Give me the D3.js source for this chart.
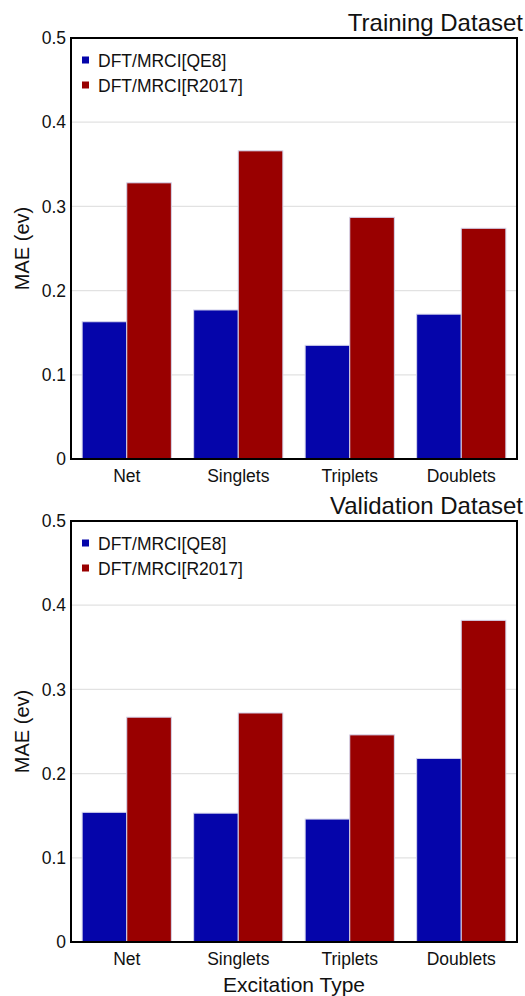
<!DOCTYPE html>
<html><head><meta charset="utf-8">
<script src="https://cdn.jsdelivr.net/npm/d3@7"></script>
<style>body{margin:0;background:#fff}svg{display:block;font-family:"Liberation Sans",Arial,sans-serif}</style>
</head><body><svg id="c" width="525" height="996"></svg>
<script>
const categories = ["Net","Singlets","Triplets","Doublets"];
const seriesNames = ["DFT/MRCI[QE8]","DFT/MRCI[R2017]"];
const seriesColors = ["#0505aa","#990000"];
const trainingQE8 = [0.163,0.177,0.135,0.172];
const trainingR2017 = [0.328,0.366,0.287,0.274];
const validationQE8 = [0.154,0.153,0.146,0.218];
const validationR2017 = [0.267,0.272,0.246,0.382];
const yTicks = [0,0.1,0.2,0.3,0.4,0.5];

const FF = "Liberation Sans, Arial, sans-serif";
const svg = d3.select("#c");
const panels = [
  {title:"Training Dataset", data:[trainingQE8,trainingR2017], top:38, bottom:459},
  {title:"Validation Dataset", data:[validationQE8,validationR2017], top:521, bottom:942}
];
const left = 71, right = 517;

panels.forEach(p => {
  const g = svg.append("g");
  const y = d3.scaleLinear().domain([0,0.5]).range([p.bottom,p.top]);
  const x = d3.scaleBand().domain(categories).range([left,right]).paddingInner(0.2).paddingOuter(0.1);
  const xs = d3.scaleBand().domain([0,1]).range([0,x.bandwidth()]);

  g.append("g").selectAll("line").data(yTicks.filter(t=>t>0 && t<0.5)).join("line")
    .attr("x1",left).attr("x2",right).attr("y1",d=>y(d)).attr("y2",d=>y(d))
    .attr("stroke","#e2e2e2").attr("stroke-width",1.2);

  categories.forEach((c,i) => {
    p.data.forEach((s,j) => {
      g.append("rect")
        .attr("x", x(c)+xs(j)).attr("width", xs.bandwidth())
        .attr("y", y(s[i])).attr("height", y(0)-y(s[i]))
        .attr("fill", seriesColors[j]).attr("stroke","#d4d4ec").attr("stroke-width",1);
    });
  });

  const ya = d3.axisLeft(y).tickValues(yTicks).tickFormat(d=>d===0?"0":d3.format(".1f")(d)).tickSize(0).tickPadding(5);
  const yg = g.append("g").attr("transform",`translate(${left},0)`).call(ya);
  yg.select(".domain").remove();
  yg.attr("font-family",FF).attr("font-size",17.5);
  yg.selectAll("text").attr("fill","#111");

  const xa = d3.axisBottom(x).tickSize(0).tickPadding(11);
  const xg = g.append("g").attr("transform",`translate(0,${p.bottom})`).call(xa);
  xg.select(".domain").remove();
  xg.attr("font-family",FF).attr("font-size",17.5);
  xg.selectAll("text").attr("fill","#111");

  g.append("rect").attr("x",left).attr("y",p.top).attr("width",right-left).attr("height",p.bottom-p.top)
    .attr("fill","none").attr("stroke","#000").attr("stroke-width",2);

  g.append("text").attr("x",523).attr("y",p.top-7).attr("text-anchor","end")
    .attr("font-size",24).attr("fill","#111").text(p.title);

  g.append("text").attr("transform",`translate(29,${(p.top+p.bottom)/2}) rotate(-90)`)
    .attr("text-anchor","middle").attr("font-size",20).attr("fill","#111").text("MAE (ev)");

  seriesNames.forEach((n,j) => {
    const ly = p.top + 22 + j*25;
    g.append("rect").attr("x",82).attr("y",ly-3.5).attr("width",7).attr("height",7).attr("fill",seriesColors[j]);
    g.append("text").attr("x",98).attr("y",ly+6.5).attr("font-size",17.5).attr("fill","#111").text(n);
  });
});

svg.append("text").attr("x",294).attr("y",992).attr("text-anchor","middle")
  .attr("font-size",21).attr("fill","#111").text("Excitation Type");
</script></body></html>
